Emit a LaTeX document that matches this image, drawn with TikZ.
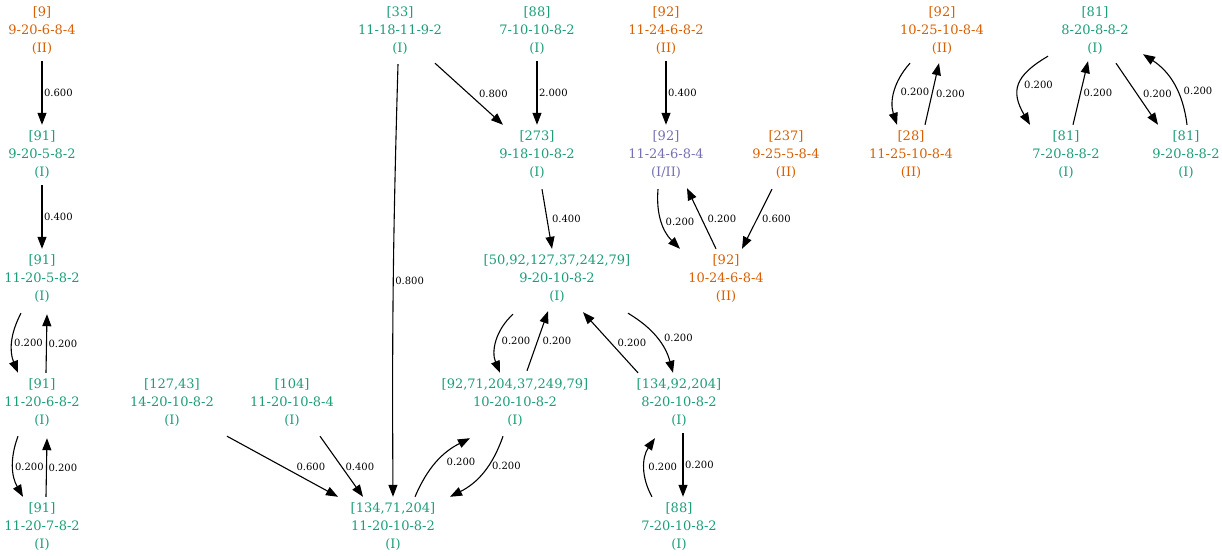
\documentclass[tikz,border=0pt]{standalone}
\usepackage{fontspec}
\setmainfont{DejaVu Serif}
\usetikzlibrary{arrows.meta}
\definecolor{grn}{HTML}{1B9E77}
\definecolor{org}{HTML}{D95F02}
\definecolor{prp}{HTML}{7570B3}

\begin{document}
\begin{tikzpicture}[x=1pt, y=1pt, node distance=124pt,
                    state/.style={inner sep=0pt, minimum height=60pt, align=center, font=\fontsize{13}{18}\selectfont},
                    one/.style={state, text=grn},
                    two/.style={state, text=org},
                    both/.style={state, text=prp},
                    lab/.style={inner sep=1.5pt, font=\fontsize{10}{12}\selectfont},
                    trans/.style={-{Triangle[length=12pt,width=9pt]}, line width=1.1pt}]
  \useasboundingbox (0,0) rectangle (1222,-556);
  \node[two] (n9) at (42,-31) {[9]\\9-20-6-8-4\\(II)};
  \node[one, below of=n9] (n91a) {[91]\\9-20-5-8-2\\(I)};
  \node[one, below of=n91a] (n91b) {[91]\\11-20-5-8-2\\(I)};
  \node[one, below of=n91b] (n91c) {[91]\\11-20-6-8-2\\(I)};
  \node[one, below of=n91c] (n91d) {[91]\\11-20-7-8-2\\(I)};
  \node[one] (n127) at (172,-403) {[127,43]\\14-20-10-8-2\\(I)};
  \node[one] (n104) at (292,-403) {[104]\\11-20-10-8-4\\(I)};
  \node[one] (n33) at (400,-31) {[33]\\11-18-11-9-2\\(I)};
  \node[one] (n88a) at (537,-31) {[88]\\7-10-10-8-2\\(I)};
  \node[one, below of=n88a] (n273) {[273]\\9-18-10-8-2\\(I)};
  \node[one, below of=n273, xshift=20pt] (n50) {[50,92,127,37,242,79]\\9-20-10-8-2\\(I)};
  \node[one, below of=n50, xshift=-42pt] (n92x) {[92,71,204,37,249,79]\\10-20-10-8-2\\(I)};
  \node[one, below of=n50, xshift=122pt] (n134b) {[134,92,204]\\8-20-10-8-2\\(I)};
  \node[one, below of=n134b] (n88b) {[88]\\7-20-10-8-2\\(I)};
  \node[one, below of=n92x, xshift=-122pt] (n134a) {[134,71,204]\\11-20-10-8-2\\(I)};
  \node[two] (n92a) at (666,-31) {[92]\\11-24-6-8-2\\(II)};
  \node[both, below of=n92a] (n92b) {[92]\\11-24-6-8-4\\(I/II)};
  \node[two, right of=n92b, node distance=120pt] (n237) {[237]\\9-25-5-8-4\\(II)};
  \node[two, below of=n92b, xshift=60pt] (n92c) {[92]\\10-24-6-8-4\\(II)};
  \node[two] (n92d) at (942,-31) {[92]\\10-25-10-8-4\\(II)};
  \node[two, below of=n92d, xshift=-31pt] (n28) {[28]\\11-25-10-8-4\\(II)};
  \node[one] (n81a) at (1095,-31) {[81]\\8-20-8-8-2\\(I)};
  \node[one, below of=n81a, xshift=-29pt] (n81b) {[81]\\7-20-8-8-2\\(I)};
  \node[one, below of=n81a, xshift=91pt] (n81c) {[81]\\9-20-8-8-2\\(I)};

  \draw[trans] (n9) -- node[lab, right] {0.600} (n91a);
  \draw[trans] (n91a) -- node[lab, right] {0.400} (n91b);
  \draw[trans] ([xshift=-21pt,yshift=-4pt]n91b.south) to[bend right=25] node[lab, right] {0.200} ([xshift=-24pt]n91c.north);
  \draw[trans] ([xshift=4pt]n91c.north) -- node[lab, right] {0.200} ([xshift=5pt,yshift=-5pt]n91b.south);
  \draw[trans] ([xshift=-24pt,yshift=-3pt]n91c.south) to[bend right=25] node[lab, right] {0.200} ([xshift=-19pt]n91d.north);
  \draw[trans] ([xshift=4pt]n91d.north) -- node[lab, right] {0.200} ([xshift=5pt,yshift=-5pt]n91c.south);

  \draw[trans] ([xshift=55pt,yshift=-3pt]n127.south) -- node[lab, right=12pt] {0.600} ([xshift=-55pt]n134a.north);
  \draw[trans] ([xshift=28pt,yshift=-3pt]n104.south) -- node[lab, right=2pt] {0.400} ([xshift=-30pt]n134a.north);
  \draw[trans] ([xshift=-2pt,yshift=-3pt]n33.south) to[bend right=1] node[lab, right] {0.800} (n134a.north);
  \draw[trans] ([xshift=22pt]n134a.north) to[bend left=20] node[lab, right=8pt] {0.200} ([xshift=-45pt,yshift=-5pt]n92x.south);
  \draw[trans] ([xshift=-12pt,yshift=-3pt]n92x.south) to[bend left=22] node[lab, pos=0.4, right=2pt] {0.200} ([xshift=57pt]n134a.north);

  \draw[trans] ([xshift=35pt,yshift=-2pt]n33.south) -- node[lab, right=8pt] {0.800} ([xshift=-34pt]n273.north);
  \draw[trans] (n88a) -- node[lab, right] {2.000} (n273);
  \draw[trans] ([xshift=5pt,yshift=-4pt]n273.south) -- node[lab, right=3pt] {0.400} ([xshift=-5pt]n50.north);
  \draw[trans] ([xshift=-44pt,yshift=-5pt]n50.south) to[bend right=35] node[lab, right=3pt] {0.200} ([xshift=-15pt]n92x.north);
  \draw[trans] ([xshift=12pt,yshift=2pt]n92x.north) -- node[lab, right=3pt] {0.200} ([xshift=-9pt,yshift=-2pt]n50.south);
  \draw[trans] ([xshift=-41pt]n134b.north) -- node[lab, right=5pt] {0.200} ([xshift=26pt,yshift=-3pt]n50.south);
  \draw[trans] ([xshift=71pt,yshift=-4pt]n50.south) to[bend left=22] node[lab, right=5pt] {0.200} ([xshift=-6pt]n134b.north);
  \draw[trans] ([xshift=4pt]n134b.south) -- node[lab, right] {0.200} ([xshift=4pt]n88b.north);
  \draw[trans] ([xshift=-27pt]n88b.north) to[bend left=32] node[lab, right=2pt] {0.200} ([xshift=-24pt,yshift=-5pt]n134b.south);

  \draw[trans] (n92a) -- node[lab, right] {0.400} (n92b);
  \draw[trans] ([xshift=-8pt,yshift=-4pt]n92b.south) to[bend right=25] node[lab, right=2pt] {0.200} ([xshift=-46pt]n92c.north);
  \draw[trans] ([xshift=-10pt]n92c.north) -- node[lab, right=4pt] {0.200} ([xshift=21pt,yshift=-3pt]n92b.south);
  \draw[trans] ([xshift=-14pt,yshift=-4pt]n237.south) -- node[lab, right=3pt] {0.600} ([xshift=16pt]n92c.north);

  \draw[trans] ([xshift=-32pt,yshift=-2pt]n92d.south) to[bend right=30] node[lab, right=4pt] {0.200} ([xshift=-14pt]n28.north);
  \draw[trans] ([xshift=14pt]n28.north) -- node[lab, right=2pt] {0.200} ([xshift=-3pt,yshift=-2pt]n92d.south);

  \draw[trans] ([xshift=-47pt,yshift=5pt]n81a.south) to[bend right=45, looseness=1.4] node[lab, right=3pt] {0.200} ([xshift=-36pt]n81b.north);
  \draw[trans] ([xshift=7pt]n81b.north) -- node[lab, right=1pt] {0.200} ([xshift=-7pt]n81a.south);
  \draw[trans] ([xshift=21pt,yshift=-2pt]n81a.south) -- node[lab, right=4pt] {0.200} ([xshift=-28pt]n81c.north);
  \draw[trans] ([xshift=1pt]n81c.north) to[bend right=25] node[lab, pos=0.4, right=4pt] {0.200} ([xshift=48pt,yshift=7pt]n81a.south);
\end{tikzpicture}
\end{document}
